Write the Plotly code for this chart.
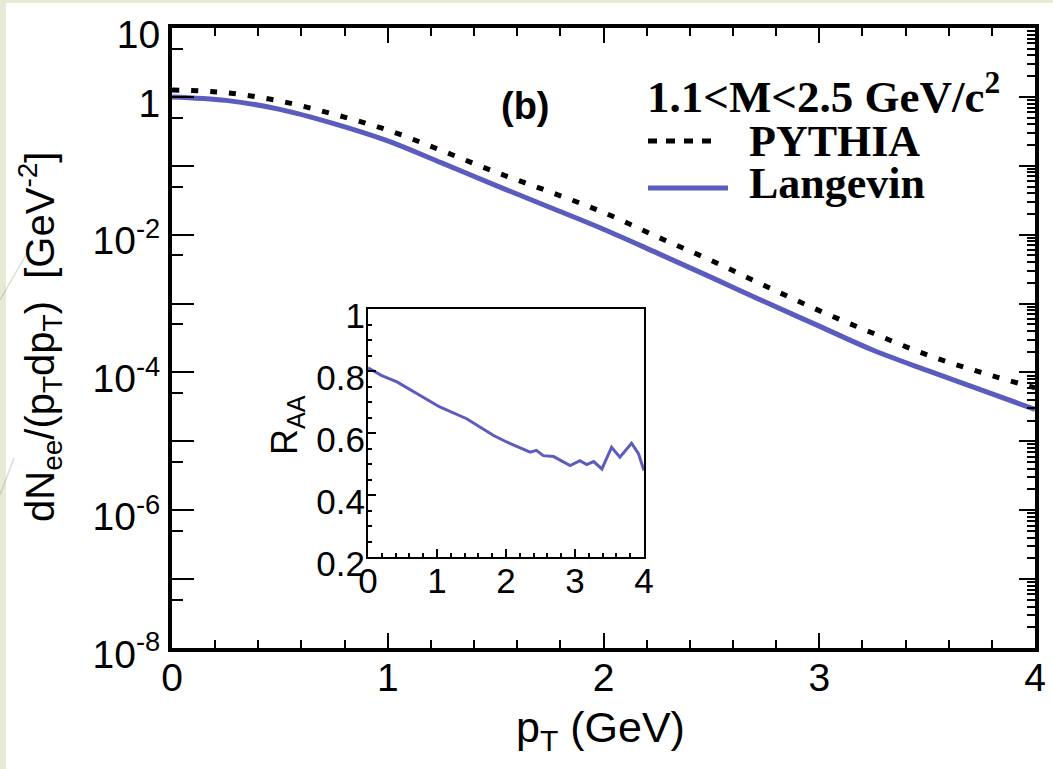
import plotly.graph_objects as go

W, H = 1053, 769

# pT grid (GeV) for the dielectron spectra
pt = [0.0, 0.25, 0.5, 0.75, 1.0, 1.25, 1.5, 1.75, 2.0, 2.25, 2.5, 2.75,
      3.0, 3.25, 3.5, 3.75, 4.0]
# dN_ee/(pT dpT) [GeV^-2], 1.1 < M < 2.5 GeV/c^2
pythia = [1.26, 1.15, 0.87, 0.56, 0.33, 0.166, 0.081, 0.042, 0.021, 9.3e-3,
          4.2e-3, 1.8e-3, 7.9e-4, 3.7e-4, 1.8e-4, 1.0e-4, 6.0e-5]
langevin = [1.0, 0.89, 0.66, 0.41, 0.23, 0.11, 0.052, 0.025, 0.012, 5.4e-3,
            2.4e-3, 1.05e-3, 4.7e-4, 2.1e-4, 1.07e-4, 5.6e-5, 2.9e-5]

# nuclear modification factor Langevin / PYTHIA
raa_pt = [0.0, 0.2, 0.42, 0.71, 1.04, 1.43, 1.82, 2.01, 2.2, 2.35, 2.44, 2.54,
          2.69, 2.8, 2.93, 3.07, 3.17, 3.27, 3.39, 3.53, 3.65, 3.82, 3.92, 4.0]
raa = [0.81, 0.785, 0.765, 0.727, 0.684, 0.646, 0.592, 0.571, 0.552, 0.538,
       0.544, 0.527, 0.524, 0.51, 0.495, 0.511, 0.498, 0.508, 0.484, 0.554,
       0.522, 0.567, 0.533, 0.479]

# axis ticks
x_ticks = [0, 1, 2, 3, 4]
y_decades = [-8, -7, -6, -5, -4, -3, -2, -1, 0, 1]
y_labelled = {-8: "10<sup>-8</sup>", -6: "10<sup>-6</sup>", -4: "10<sup>-4</sup>",
              -2: "10<sup>-2</sup>", 0: "1", 1: "10"}
inset_x_ticks = [0, 1, 2, 3, 4]
inset_y_ticks = [0.2, 0.4, 0.6, 0.8, 1.0]

BLUE = "#5c5cbf"
SANS = "Liberation Sans, Arial, sans-serif"
SERIF = "Liberation Serif, Times New Roman, serif"


def px(x):
    return x / W


def py(y):
    return 1 - y / H


fig = go.Figure()

fig.add_trace(go.Scatter(x=pt, y=langevin, mode="lines", line_shape="spline",
                         line=dict(color=BLUE, width=5), showlegend=False,
                         xaxis="x", yaxis="y", name="Langevin"))
fig.add_trace(go.Scatter(x=pt, y=pythia, mode="lines", line_shape="spline",
                         line=dict(color="black", width=5, dash="7px,12px"),
                         showlegend=False, xaxis="x", yaxis="y2", name="PYTHIA"))
fig.add_trace(go.Scatter(x=raa_pt, y=raa, mode="lines",
                         line=dict(color=BLUE, width=3), showlegend=False,
                         xaxis="x3", yaxis="y3", name="R_AA"))

dec_vals = [10.0 ** d for d in y_decades]
dec_text = [y_labelled.get(d, "") for d in y_decades]
five_vals = [5 * 10.0 ** d for d in y_decades[:-1]]
all_minor = [m * 10.0 ** d for d in y_decades[:-1] for m in range(2, 10)]

main_x_dom = [px(172), px(1035)]
main_y_dom = [py(648), py(28)]

fig.update_layout(
    width=W, height=H,
    autosize=False,
    margin=dict(l=0, r=0, t=0, b=0, pad=0, autoexpand=False),
    paper_bgcolor="#e6ebd5",
    plot_bgcolor="white",
    showlegend=False,
    xaxis=dict(domain=main_x_dom, range=[0, 4], anchor="y", automargin=False,
               tickmode="array", tickvals=x_ticks, ticktext=[str(v) for v in x_ticks],
               ticks="inside", ticklen=15, tickwidth=2, tickcolor="black",
               minor=dict(dtick=0.2, tick0=0, ticks="inside", ticklen=8,
                          tickwidth=2, tickcolor="black"),
               showline=True, linewidth=4, linecolor="black", mirror="ticks",
               showgrid=False, zeroline=False, ticklabelstandoff=-8,
               tickfont=dict(family=SANS, size=39, color="black")),
    yaxis=dict(domain=main_y_dom, type="log", range=[-8, 1], anchor="x", automargin=False,
               tickmode="array", tickvals=dec_vals, ticktext=dec_text,
               ticks="inside", ticklen=22, tickwidth=2, tickcolor="black",
               minor=dict(tickmode="array", tickvals=five_vals, ticks="inside",
                          ticklen=11, tickwidth=2, tickcolor="black"),
               showline=True, linewidth=4, linecolor="black",
               showgrid=False, zeroline=False, ticklabelshift=6,
               tickfont=dict(family=SANS, size=39, color="black")),
    yaxis2=dict(overlaying="y", side="right", type="log", range=[-8, 1], anchor="x",
                automargin=False,
                tickmode="array", tickvals=dec_vals, showticklabels=False,
                ticks="inside", ticklen=16, tickwidth=2, tickcolor="black",
                minor=dict(tickmode="array", tickvals=all_minor, ticks="inside",
                           ticklen=8, tickwidth=2, tickcolor="black"),
                showline=True, linewidth=4, linecolor="black",
                showgrid=False, zeroline=False),
    xaxis3=dict(domain=[px(368), px(644)], range=[0, 4], anchor="y3", automargin=False,
                tickmode="array", tickvals=inset_x_ticks,
                ticktext=[str(v) for v in inset_x_ticks],
                ticks="inside", ticklen=8, tickwidth=1.5, tickcolor="black",
                minor=dict(dtick=0.2, tick0=0, ticks="inside", ticklen=4,
                           tickwidth=1.5, tickcolor="black"),
                showline=True, linewidth=2, linecolor="black", mirror=True,
                showgrid=False, zeroline=False, ticklabelstandoff=-8,
                tickfont=dict(family=SANS, size=35, color="black")),
    yaxis3=dict(domain=[py(557), py(309)], range=[0.2, 1.0], anchor="x3", automargin=False,
                tickmode="array", tickvals=inset_y_ticks,
                ticktext=["0.2", "0.4", "0.6", "0.8", "1"],
                ticks="inside", ticklen=8, tickwidth=1.5, tickcolor="black",
                minor=dict(dtick=0.05, tick0=0.2, ticks="inside", ticklen=4,
                           tickwidth=1.5, tickcolor="black"),
                showline=True, linewidth=2, linecolor="black", mirror=True,
                showgrid=False, zeroline=False, ticklabelstandoff=-6,
                ticklabelshift=7,
                tickfont=dict(family=SANS, size=35, color="black")),
)

P = dict(xref="paper", yref="paper")

shapes = [
    # page area
    dict(type="rect", **P, x0=px(6), x1=1, y0=0, y1=py(3),
         fillcolor="white", line=dict(width=0), layer="below"),
    # faint slide decoration strokes
    dict(type="line", **P, x0=0, y0=py(300), x1=px(30), y1=py(248),
         line=dict(color="rgba(150,160,120,0.35)", width=1.5)),
    dict(type="line", **P, x0=0, y0=py(495), x1=px(14), y1=py(458),
         line=dict(color="rgba(150,160,120,0.35)", width=1.5)),
    # legend keys
    dict(type="line", **P, x0=px(648), x1=px(720),
         y0=py(141), y1=py(141), line=dict(color="black", width=5, dash="9px,9px")),
    dict(type="line", **P, x0=px(648), x1=px(728),
         y0=py(188), y1=py(188), line=dict(color=BLUE, width=5)),
]

annotations = [
    dict(text="dN<sub>ee</sub>/(p<sub>T</sub>dp<sub>T</sub>)&nbsp;&nbsp;[GeV<sup>-2</sup>]",
         **P, x=px(40), y=py(337), textangle=-90, showarrow=False,
         xanchor="center", yanchor="middle",
         font=dict(family=SANS, size=40, color="black")),
    dict(text="p<sub>T</sub>&nbsp;(GeV)", **P, x=px(600), y=py(730), showarrow=False,
         xanchor="center", yanchor="middle",
         font=dict(family=SANS, size=43, color="black")),
    dict(text="R<sub>AA</sub>", **P, x=px(287), y=py(425), textangle=-90, showarrow=False,
         xanchor="center", yanchor="middle",
         font=dict(family=SANS, size=36, color="black")),
    dict(text="<b>(b)</b>", **P, x=px(525), y=py(106), showarrow=False,
         xanchor="center", yanchor="middle",
         font=dict(family=SANS, size=38, color="black")),
    dict(text="<b>1.1&lt;M&lt;2.5 GeV/c<sup>2</sup></b>", **P, x=px(645), y=py(93),
         showarrow=False, xanchor="left", yanchor="middle",
         font=dict(family=SERIF, size=45, color="black")),
    dict(text="<b>PYTHIA</b>", **P, x=px(747), y=py(142), showarrow=False,
         xanchor="left", yanchor="middle",
         font=dict(family=SERIF, size=44, color="black")),
    dict(text="<b>Langevin</b>", **P, x=px(747), y=py(183), showarrow=False,
         xanchor="left", yanchor="middle",
         font=dict(family=SERIF, size=44, color="black")),
]

fig.update_layout(shapes=shapes, annotations=annotations)

fig.write_html("out.html", config={"responsive": False})
